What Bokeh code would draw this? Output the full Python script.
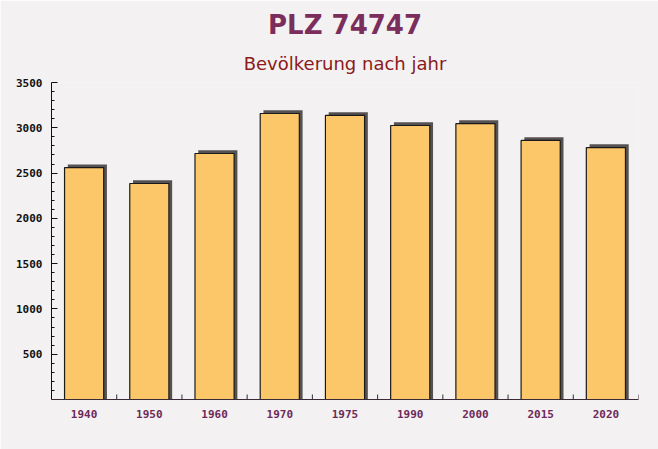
from bokeh.plotting import figure
from bokeh.models import ColumnDataSource, Title, FixedTicker, Range1d
from bokeh.transform import dodge
from bokeh.embed import file_html
from bokeh.resources import INLINE

years = ["1940", "1950", "1960", "1970", "1975", "1990", "2000", "2015", "2020"]
population = [2561, 2385, 2716, 3158, 3136, 3025, 3047, 2860, 2782]
y_ticks = [500, 1000, 1500, 2000, 2500, 3000, 3500]

title_text = "PLZ 74747"
subtitle_text = "Bevölkerung nach jahr"

shadow_top = [v + 35 for v in population]
tick_h = [55 for _ in years]
src = ColumnDataSource(dict(years=years, population=population, shadow_top=shadow_top,
                            zero=[0] * len(years), tick_h=tick_h))

p = figure(width=658, height=449, x_range=years, y_range=Range1d(0, 3500),
           output_backend="svg", toolbar_location=None,
           min_border_left=51, min_border_right=20, min_border_top=82, min_border_bottom=50,
           background_fill_color="#f3f1f1", border_fill_color="#f3f1f1")
p.outline_line_color = None
p.xgrid.grid_line_color = None
p.ygrid.grid_line_color = None

p.title.text = title_text
p.title.align = "center"
p.title.text_font = "DejaVu Sans"
p.title.text_font_style = "bold"
p.title.text_font_size = "26px"
p.title.text_color = "#7b2d5b"
p.title.offset = -17
p.title.standoff = 5

sub = Title(text=subtitle_text, align="center", text_font="DejaVu Sans", offset=-17,
            text_font_style="normal", text_font_size="18px", text_color="#8b1a1a",
            standoff=17)
p.add_layout(sub, "above")

p.vbar(x=dodge("years", 0.05, range=p.x_range), top="shadow_top", width=0.6, source=src,
       fill_color="#575252", line_color=None)
p.vbar(x="years", top="population", width=0.6, source=src,
       fill_color="#fcc768", line_color="#1a1a1a", line_width=1.2)

# boundary ticks between categories (pointing inward)
p.segment(x0=dodge("years", 0.5, range=p.x_range), y0="zero",
          x1=dodge("years", 0.5, range=p.x_range), y1="tick_h", source=src,
          line_color="#3a2a35", line_width=1)

p.yaxis.ticker = FixedTicker(ticks=y_ticks, minor_ticks=list(range(100, 3500, 100)))
p.yaxis.axis_line_color = "#111111"
p.yaxis.major_tick_in = 6
p.yaxis.major_tick_out = 0
p.yaxis.minor_tick_in = 3
p.yaxis.minor_tick_out = 0
p.yaxis.major_tick_line_color = "#111111"
p.yaxis.minor_tick_line_color = "#111111"
p.yaxis.major_label_text_font = "DejaVu Sans Mono"
p.yaxis.major_label_text_font_style = "bold"
p.yaxis.major_label_text_font_size = "11px"
p.yaxis.major_label_text_color = "#111111"
p.yaxis.major_label_standoff = 9

p.xaxis.axis_line_color = "#3a2a35"
p.xaxis.major_tick_line_color = None
p.xaxis.minor_tick_line_color = None
p.xaxis.major_label_text_font = "DejaVu Sans Mono"
p.xaxis.major_label_text_font_style = "bold"
p.xaxis.major_label_text_font_size = "11px"
p.xaxis.major_label_text_color = "#6e2a5a"
p.xaxis.major_label_standoff = 4

open("out.html", "w").write(file_html(p, INLINE))
